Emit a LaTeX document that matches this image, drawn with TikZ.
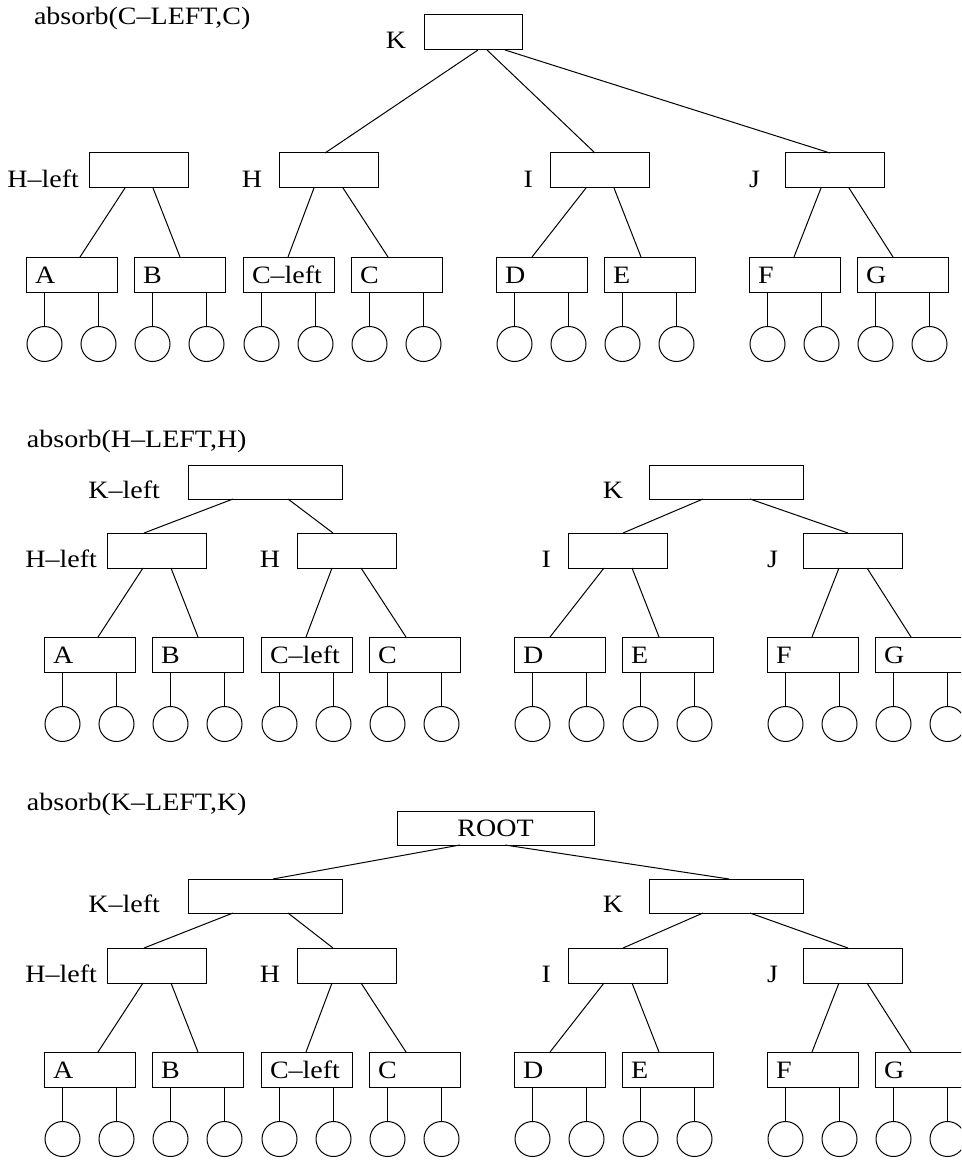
\documentclass[tikz,border=0pt]{standalone}
\usepackage{fontspec}
\setmainfont[FakeStretch=1.12]{Liberation Serif}
\usetikzlibrary{calc}
\tikzset{
  lbl/.style={inner sep=0pt, outer sep=0pt, font=\fontsize{25}{29}\selectfont},
  midbox/.style={draw, rectangle, inner sep=0pt, outer sep=0pt, minimum width=99pt, minimum height=35pt, anchor=north west},
  lowbox/.style={draw, rectangle, inner sep=0pt, outer sep=0pt, minimum width=91pt, minimum height=35pt, anchor=north west},
  topbox/.style={draw, rectangle, inner sep=0pt, outer sep=0pt, minimum width=154pt, minimum height=34pt, anchor=north west},
  leaf/.style={draw, circle, inner sep=0pt, outer sep=0pt, minimum size=35pt},
  edge/.style={draw, line width=1pt}
}
\newcommand\lowertree{%
  \node[midbox] (Hl) at (89,153) {};
  \node[midbox] (H)  at (279,153) {};
  \node[midbox] (I)  at (550,153) {};
  \node[midbox] (J)  at (785,153) {};
  \node[lbl, anchor=base east] (Hl-t) at (79,187) {H--left};
  \node[lbl, anchor=base east] (H-t)  at (262,187) {H};
  \node[lbl, anchor=base east] (I-t)  at (533,187) {I};
  \node[lbl, anchor=base east] (J-t)  at (760,187) {J};
  \foreach \n/\x/\t in {A/26/A, B/134/B, Cl/243/C--left, C/351/C, D/496/D, E/604/E, F/749/F, G/857/G}{
    \node[lowbox] (\n) at (\x,257) {};
    \node[lbl, anchor=base west] (\n-t) at (\x+9,283) {\t};
    \node[leaf] (\n-1) at (\x+18.5,344) {};
    \node[leaf] (\n-2) at (\x+72.5,344) {};
    \draw[edge] (\n-1.north |- \n.south) -- (\n-1.north);
    \draw[edge] (\n-2.north |- \n.south) -- (\n-2.north);
  }
  \draw[edge] ([xshift=36pt]Hl.south west) -- ([xshift=54pt]A.north west);
  \draw[edge] ([xshift=64pt]Hl.south west) -- ([xshift=46pt]B.north west);
  \draw[edge] ([xshift=35pt]H.south west) -- ([xshift=45pt]Cl.north west);
  \draw[edge] ([xshift=64pt]H.south west) -- ([xshift=37pt]C.north west);
  \draw[edge] ([xshift=36pt]I.south west) -- ([xshift=36pt]D.north west);
  \draw[edge] ([xshift=64pt]I.south west) -- ([xshift=37pt]E.north west);
  \draw[edge] ([xshift=36pt]J.south west) -- ([xshift=45pt]F.north west);
  \draw[edge] ([xshift=64pt]J.south west) -- ([xshift=36pt]G.north west);
}
\begin{document}
\begin{tikzpicture}[x=1pt,y=-1pt, line width=1pt]
\clip (0,0) rectangle (961,1161);
\fill[white] (0,0) rectangle (961,1161);

% ---------- panel 1 ----------
\begin{scope}[name prefix=p1-]
  \node[lbl, anchor=base west] (title) at (34,25) {absorb(C--LEFT,C)};
  \node[draw, rectangle, inner sep=0pt, outer sep=0pt, minimum width=98pt, minimum height=35pt, anchor=north west] (K) at (424,15) {};
  \node[lbl, anchor=base east] (K-t) at (406,49) {K};
  \lowertree
  \draw[edge] ([xshift=54pt]K.south west) -- ([xshift=46pt]H.north west);
  \draw[edge] ([xshift=63pt]K.south west) -- ([xshift=45pt]I.north west);
  \draw[edge] ([xshift=81pt]K.south west) -- ([xshift=45pt]J.north west);
\end{scope}

% ---------- panel 2 ----------
\begin{scope}[name prefix=p2-]
  \node[lbl, anchor=base west] (title) at (27,447) {absorb(H--LEFT,H)};
  \begin{scope}[shift={(18,380)}]
    \lowertree
  \end{scope}
  \node[topbox] (Kl) at (188,465) {};
  \node[topbox] (K) at (649,465) {};
  \node[lbl, anchor=base east] (Kl-t) at (160,498) {K--left};
  \node[lbl, anchor=base east] (K-t) at (623,498) {K};
  \draw[edge] ([xshift=45pt]Kl.south west) -- ([xshift=37pt]Hl.north west);
  \draw[edge] ([xshift=100pt]Kl.south west) -- ([xshift=36pt]H.north west);
  \draw[edge] ([xshift=54pt]K.south west) -- ([xshift=55pt]I.north west);
  \draw[edge] ([xshift=101pt]K.south west) -- ([xshift=45pt]J.north west);
\end{scope}

% ---------- panel 3 ----------
\begin{scope}[name prefix=p3-]
  \node[lbl, anchor=base west] (title) at (27,810) {absorb(K--LEFT,K)};
  \begin{scope}[shift={(18,795)}]
    \lowertree
  \end{scope}
  \node[draw, rectangle, inner sep=0pt, outer sep=0pt, minimum width=197pt, minimum height=34pt, anchor=north west, font=\fontsize{25}{29}\selectfont] (R) at (397,811) {ROOT};
  \node[topbox] (Kl) at (188,879) {};
  \node[topbox] (K) at (649,879) {};
  \node[lbl, anchor=base east] (Kl-t) at (160,912) {K--left};
  \node[lbl, anchor=base east] (K-t) at (623,912) {K};
  \draw[edge] ([xshift=63pt]R.south west) -- ([xshift=85pt]Kl.north west);
  \draw[edge] ([xshift=108pt]R.south west) -- ([xshift=80pt]K.north west);
  \draw[edge] ([xshift=45pt]Kl.south west) -- ([xshift=37pt]Hl.north west);
  \draw[edge] ([xshift=100pt]Kl.south west) -- ([xshift=36pt]H.north west);
  \draw[edge] ([xshift=54pt]K.south west) -- ([xshift=55pt]I.north west);
  \draw[edge] ([xshift=101pt]K.south west) -- ([xshift=45pt]J.north west);
\end{scope}
\end{tikzpicture}
\end{document}
